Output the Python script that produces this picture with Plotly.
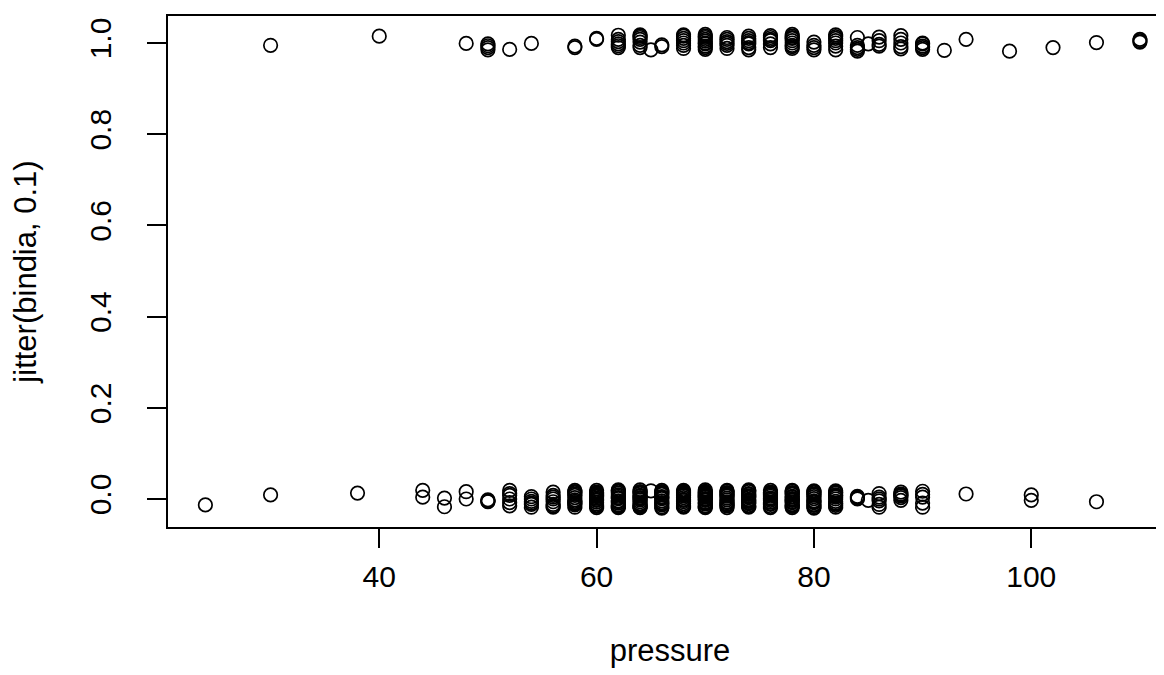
import plotly.graph_objects as go

# ---- data (pressure vs jitter(bindia, 0.1)) ----
# bindia = 1 (top row): pressure levels and the jittered y values at each level
top_levels = [30, 40, 48, 50, 52, 54, 58, 60, 62, 64, 65, 66, 68, 70, 72, 74, 76, 78,
              80, 82, 84, 85, 86, 88, 90, 92, 94, 98, 102, 106, 110]
top_jitter = [
    [0.995],
    [1.015],
    [0.999],
    [0.998, 0.990, 0.985, 0.994],
    [0.986],
    [0.999],
    [0.990, 0.993],
    [1.010, 1.008],
    [1.017, 1.008, 0.998, 0.990, 1.003, 0.994],
    [1.018, 1.012, 1.002, 0.995, 0.990, 1.008, 1.015],
    [0.985],
    [0.992, 0.996],
    [1.015, 1.005, 0.995, 0.988, 1.010, 1.000, 1.018],
    [1.019, 1.015, 1.008, 1.000, 0.993, 0.986, 1.012, 0.998, 1.004, 0.990],
    [1.012, 1.003, 0.995, 0.988, 1.008, 0.999],
    [1.015, 1.005, 0.998, 0.990, 0.985, 1.010, 1.001],
    [1.012, 1.005, 0.998, 0.990, 1.008, 1.016],
    [1.019, 1.015, 1.005, 0.995, 0.988, 1.010, 1.000, 1.012, 0.992],
    [1.002, 0.995, 0.990, 0.985],
    [1.018, 1.010, 1.000, 0.993, 0.985, 1.005, 1.014],
    [1.012, 0.990, 0.986, 0.982, 0.995],
    [0.998],
    [1.013, 1.005, 0.997, 0.993],
    [1.016, 1.008, 1.000, 0.992, 0.987],
    [0.998, 0.993, 0.990, 0.986, 1.000],
    [0.984],
    [1.008],
    [0.982],
    [0.990],
    [1.001],
    [1.005, 1.002, 1.008],
]

# bindia = 0 (bottom row)
bottom_levels = [24, 30, 38, 44, 46, 48, 50, 52, 54, 56, 58, 60, 62, 64, 65, 66, 68, 70,
                 72, 74, 76, 78, 80, 82, 84, 85, 86, 88, 90, 94, 100, 106]
bottom_jitter = [
    [-0.013],
    [0.009],
    [0.013],
    [0.019, 0.004],
    [0.002, -0.017],
    [0.016, 0.000],
    [-0.004, -0.006, -0.002, -0.005],
    [0.019, 0.008, 0.000, -0.008, -0.015, 0.012],
    [0.005, -0.005, -0.012, -0.018, 0.000, -0.009],
    [0.015, 0.008, 0.000, -0.006, -0.012, -0.018, 0.004, -0.015],
    [0.019, 0.014, 0.008, 0.003, -0.002, -0.008, -0.013, -0.018, 0.011, -0.005, 0.016, -0.010],
    [0.019, 0.015, 0.011, 0.007, 0.002, -0.003, -0.007, -0.011, -0.016, -0.019, 0.005, -0.001,
     0.013, -0.014, 0.009],
    [0.018, 0.013, 0.009, 0.006, 0.001, -0.004, -0.009, -0.013, -0.017, -0.019, 0.016, -0.006,
     -0.015, 0.003, 0.020],
    [0.020, 0.016, 0.012, 0.008, 0.003, -0.002, -0.006, -0.010, -0.014, -0.018, -0.019, 0.006,
     -0.012, 0.014, -0.016, 0.001],
    [0.018],
    [0.019, 0.014, 0.010, 0.005, 0.001, -0.004, -0.008, -0.013, -0.017, -0.020, 0.012,
     -0.010, 0.016, 0.003],
    [0.019, 0.015, 0.011, 0.007, 0.003, -0.001, -0.006, -0.010, -0.014, -0.018, 0.009, -0.003,
     0.017, -0.016, 0.013],
    [0.020, 0.017, 0.013, 0.009, 0.005, 0.001, -0.003, -0.007, -0.011, -0.015, -0.019, 0.015,
     -0.009, 0.004, -0.017, 0.011, -0.001, 0.007],
    [0.019, 0.014, 0.010, 0.006, 0.002, -0.002, -0.006, -0.011, -0.015, -0.019, 0.008, -0.013,
     0.017, -0.008, 0.012],
    [0.020, 0.016, 0.012, 0.007, 0.003, -0.001, -0.005, -0.010, -0.014, -0.018, 0.010, -0.003,
     -0.016, 0.018, -0.008, 0.005],
    [0.019, 0.015, 0.011, 0.006, 0.002, -0.003, -0.007, -0.012, -0.016, -0.019, 0.013,
     0.009, -0.010, 0.000],
    [0.019, 0.014, 0.010, 0.006, 0.001, -0.003, -0.008, -0.012, -0.016, -0.019, 0.004, -0.006,
     0.017, -0.014, 0.012, -0.001],
    [0.018, 0.014, 0.009, 0.005, 0.001, -0.004, -0.008, -0.012, -0.017, -0.020, 0.011, -0.014,
     0.016, -0.006],
    [0.018, 0.013, 0.009, 0.004, 0.000, -0.005, -0.009, -0.014, -0.018, 0.007, -0.011, 0.015],
    [0.006, 0.004, 0.002, 0.000],
    [-0.003],
    [0.012, 0.004, -0.004, -0.012, -0.018, 0.000],
    [0.015, 0.009, 0.003, -0.003, 0.007, 0.011],
    [0.017, 0.010, 0.004, -0.009, -0.018],
    [0.011],
    [0.009, -0.003],
    [-0.006],
]

x_ticks = [40, 60, 80, 100]
y_ticks = [0.0, 0.2, 0.4, 0.6, 0.8, 1.0]
y_tick_labels = ["0.0", "0.2", "0.4", "0.6", "0.8", "1.0"]

x_title = "pressure"
y_title = "jitter(bindia, 0.1)"

# ---- flatten the grouped table ----
xs, ys = [], []
for lv, vals in zip(bottom_levels + top_levels, bottom_jitter + top_jitter):
    for v in vals:
        xs.append(lv)
        ys.append(v)

FONT = "Liberation Sans, Arial, Helvetica, sans-serif"
LW = 1.7
TICK_SIZE = 30
TITLE_SIZE = 31

fig = go.Figure()
fig.add_trace(go.Scatter(
    x=xs, y=ys, mode="markers",
    marker=dict(symbol="circle-open", size=13.5, color="black",
                line=dict(color="black", width=LW)),
    showlegend=False, hoverinfo="x+y",
))

fig.update_layout(
    width=1164, height=675,
    margin=dict(l=160, r=0, t=8, b=156),
    paper_bgcolor="white", plot_bgcolor="white",
    font=dict(family=FONT, size=TICK_SIZE, color="black"),
    xaxis=dict(
        range=[20.56, 112.95], tickvals=x_ticks, ticks="outside", ticklen=19,
        tickwidth=LW, tickcolor="black", showline=True, linecolor="black",
        linewidth=LW, mirror=True, showgrid=False, zeroline=False,
        tickfont=dict(family=FONT, size=TICK_SIZE, color="black"),
        ticklabelstandoff=3,
        title=dict(text=x_title, font=dict(family=FONT, size=TITLE_SIZE, color="black"),
                   standoff=47),
        automargin=False,
    ),
    yaxis=dict(
        range=[-0.0614, 1.0592], tickvals=y_ticks, ticktext=y_tick_labels,
        tickangle=-90, ticks="outside", ticklen=19, tickwidth=LW, tickcolor="black",
        showline=True, linecolor="black", linewidth=LW, mirror=False,
        showgrid=False, zeroline=False,
        tickfont=dict(family=FONT, size=TICK_SIZE, color="black"),
        ticklabelstandoff=24,
        title=dict(text=y_title, font=dict(family=FONT, size=TITLE_SIZE, color="black"),
                   standoff=40),
        automargin=False,
    ),
)

fig.write_html("out.html")
